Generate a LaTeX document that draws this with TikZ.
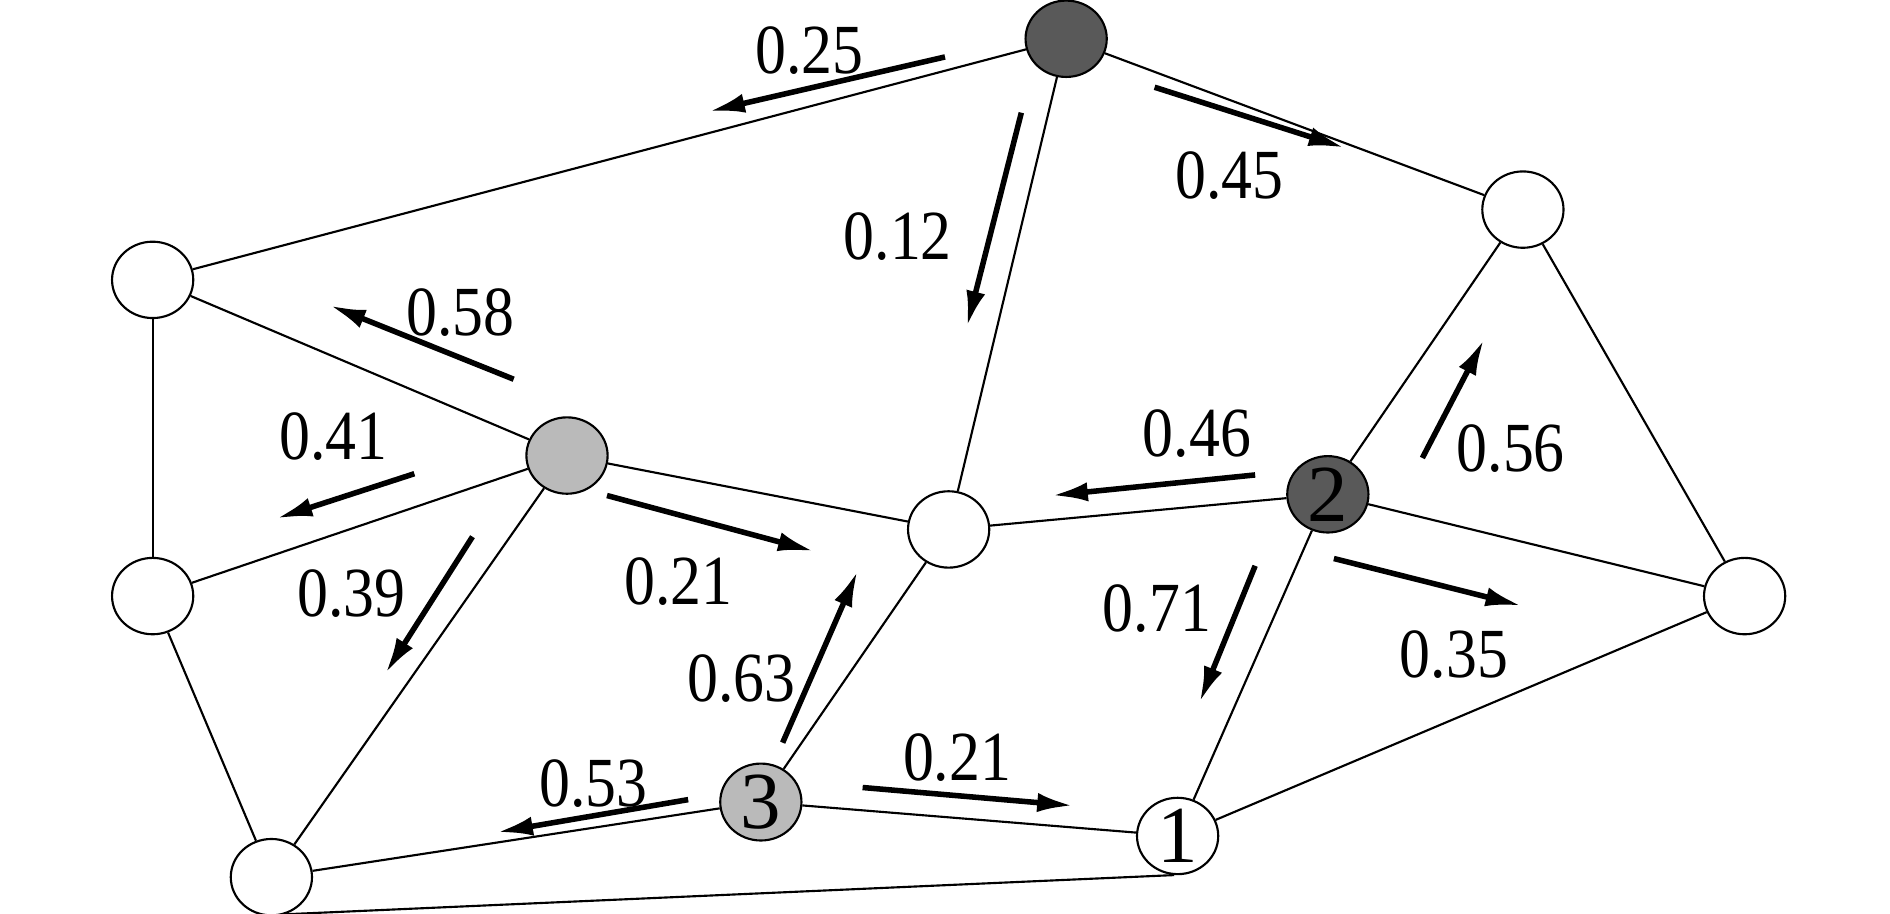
\documentclass[tikz,border=0pt]{standalone}
\usepackage{fontspec}
\setmainfont{Liberation Serif}
\usetikzlibrary{shapes.geometric,arrows.meta}
\newcommand\flowlab[1]{\scalebox{1}[1.14]{#1}}
\begin{document}
\begin{tikzpicture}[x=0.01cm,y=-0.01cm,
  vtx/.style={ellipse,draw,line width=0.5pt,minimum width=0.67cm,minimum height=0.63cm,inner sep=0pt,fill=white,font=\fontsize{19}{20}\selectfont},
  darkv/.style={vtx,fill=black!65},
  lightv/.style={vtx,fill=black!27},
  edge/.style={line width=0.5pt},
  flow/.style={line width=1.3pt,-{Latex[length=8.5pt,width=4.5pt]}},
  lbl/.style={font=\fontsize{14.5}{16}\selectfont,inner sep=0pt}]
\useasboundingbox (0,0) rectangle (1560,754);
% vertices
\node[darkv]  (T)  at (880,32)  {};
\node[vtx]    (TR) at (1257,173) {};
\node[vtx]    (L)  at (126,231) {};
\node[lightv] (G)  at (468,376) {};
\node[vtx]    (C)  at (783,437) {};
\node[darkv]  (N2) at (1096,408) {2};
\node[vtx]    (R)  at (1440,492) {};
\node[vtx]    (LL) at (126,492) {};
\node[lightv] (N3) at (628,662) {3};
\node[vtx]    (N1) at (972,690) {1};
\node[vtx]    (BL) at (224,724) {};
% edges
\draw[edge] (T) -- (L);
\draw[edge] (T) -- (TR);
\draw[edge] (T) -- (C);
\draw[edge] (L) -- (G);
\draw[edge] (L) -- (LL);
\draw[edge] (G) -- (LL);
\draw[edge] (G) -- (C);
\draw[edge] (G) -- (BL);
\draw[edge] (LL) -- (BL);
\draw[edge] (C) -- (N2);
\draw[edge] (C) -- (N3);
\draw[edge] (N2) -- (TR);
\draw[edge] (N2) -- (R);
\draw[edge] (N2) -- (N1);
\draw[edge] (TR) -- (R);
\draw[edge] (R) -- (N1);
\draw[edge] (N3) -- (BL);
\draw[edge] (N3) -- (N1);
\draw[edge] (BL.-70) -- (N1.-95);
% flow arrows
\coordinate (a1s) at (780,47);   \coordinate (a1e) at (585,92);
\coordinate (a2s) at (953,72);   \coordinate (a2e) at (1110,122);
\coordinate (a3s) at (843,93);   \coordinate (a3e) at (798,270);
\coordinate (a4s) at (424,313);  \coordinate (a4e) at (272,252);
\coordinate (a5s) at (342,391);  \coordinate (a5e) at (228,428);
\coordinate (a6s) at (501,409);  \coordinate (a6e) at (672,455);
\coordinate (a7s) at (390,443);  \coordinate (a7e) at (318,556);
\coordinate (a8s) at (1036,392); \coordinate (a8e) at (868,409);
\coordinate (a9s) at (1174,378); \coordinate (a9e) at (1225,280);
\coordinate (a10s) at (1036,467); \coordinate (a10e) at (990,580);
\coordinate (a11s) at (1101,461); \coordinate (a11e) at (1256,500);
\coordinate (a12s) at (646,613);  \coordinate (a12e) at (708,471);
\coordinate (a13s) at (568,660);  \coordinate (a13e) at (410,687);
\coordinate (a14s) at (712,650);  \coordinate (a14e) at (886,665);
\foreach \i in {1,...,14} {\draw[flow] (a\i s) -- (a\i e);}
% labels
\node[lbl] (l1) at (668,42) {\flowlab{0.25}};
\node[lbl] (l2) at (1015,145) {\flowlab{0.45}};
\node[lbl] (l3) at (741,195) {\flowlab{0.12}};
\node[lbl] (l4) at (380,258) {\flowlab{0.58}};
\node[lbl] (l5) at (275,360) {\flowlab{0.41}};
\node[lbl] (l6) at (560,480) {\flowlab{0.21}};
\node[lbl] (l7) at (290,490) {\flowlab{0.39}};
\node[lbl] (l8) at (988,358) {\flowlab{0.46}};
\node[lbl] (l9) at (1247,370) {\flowlab{0.56}};
\node[lbl] (l10) at (955,502) {\flowlab{0.71}};
\node[lbl] (l11) at (1200,540) {\flowlab{0.35}};
\node[lbl] (l12) at (612,560) {\flowlab{0.63}};
\node[lbl] (l13) at (490,647) {\flowlab{0.53}};
\node[lbl] (l14) at (790,625) {\flowlab{0.21}};
\end{tikzpicture}
\end{document}
